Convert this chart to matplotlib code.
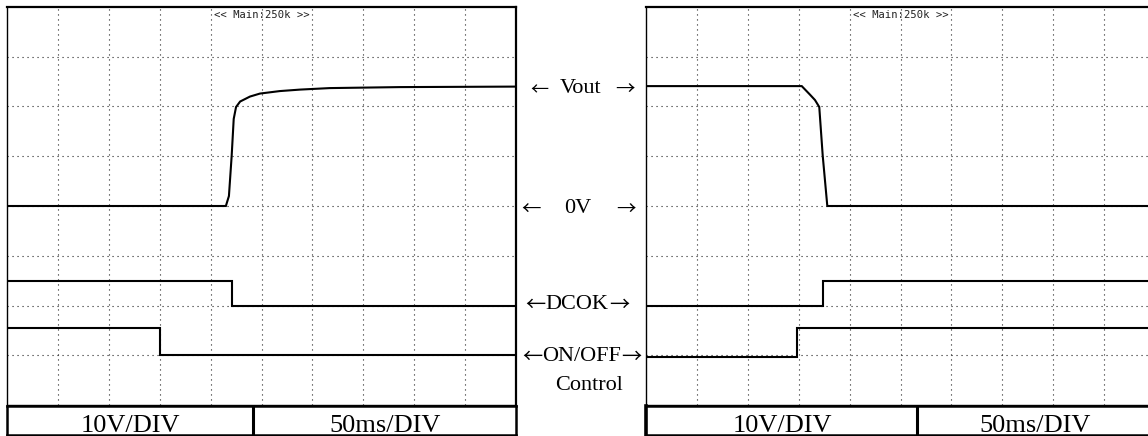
import matplotlib
matplotlib.use("Agg")
import matplotlib.pyplot as plt

# --- captured waveforms (time in ms, 50 ms/div; amplitude in V, 10 V/div) ---
screen_ms = 500
screen_v = 80
grid_t = [50, 100, 150, 200, 250, 300, 350, 400, 450]
grid_v = [10, 20, 30, 40, 50, 60, 70]

# channel ground offsets on screen (V)
vout_zero = 40
dcok_zero = 20
onoff_zero = 10

# power-on capture
on_vout_t = [0, 215, 218, 220.7, 222.7, 225, 229, 238.7, 248.5, 268, 288, 317, 386, 500]
on_vout_v = [0, 0, 2.0, 10.1, 17.5, 19.9, 21.0, 22.0, 22.6, 23.1, 23.4, 23.7, 23.9, 24.0]
on_dcok_t = [0, 221, 500]
on_dcok_v = [4.9, 0, 0]
on_onoff_t = [0, 150, 500]
on_onoff_v = [5.4, 0, 0]

# power-off capture
off_vout_t = [0, 153, 161, 166, 170.2, 173.6, 178.1, 500]
off_vout_v = [24.1, 24.1, 22.4, 21.3, 19.9, 10.1, 0, 0]
off_dcok_t = [0, 174, 500]
off_dcok_v = [0, 5.0, 5.0]
off_onoff_t = [0, 148.3, 500]
off_onoff_v = [-0.3, 5.5, 5.5]

scale_labels = ["10V/DIV", "50ms/DIV"]
header = "<< Main:250k >>"

W, H = 1148, 436
fig = plt.figure(figsize=(W / 100, H / 100), dpi=100)
fig.patch.set_facecolor("white")


def rect(x0, y0, x1, y1):
    """pixel box (top-left origin) -> figure fraction rect"""
    return [x0 / W, 1 - y1 / H, (x1 - x0) / W, (y1 - y0) / H]


def scope(x0, traces, right_lw=1.6):
    ax = fig.add_axes(rect(x0, 7, x0 + 509, 405))
    ax.set_xlim(0, screen_ms)
    ax.set_ylim(0, screen_v)
    for t in grid_t:
        ax.axvline(t, color="#222222", lw=0.8, ls=(0, (1, 3.5)), zorder=1)
    for v in grid_v:
        ax.axhline(v, color="#222222", lw=0.8, ls=(0, (1, 3.5)), zorder=1)
    ax.set_xticks([])
    ax.set_yticks([])
    ax.spines["top"].set_linewidth(1.6)
    ax.spines["left"].set_linewidth(1.0)
    ax.spines["right"].set_linewidth(right_lw)
    ax.spines["bottom"].set_linewidth(1.0)
    for t, v, z, ds in traces:
        ax.plot(t, [z + a for a in v], color="black", lw=1.5,
                drawstyle=ds, zorder=3, solid_joinstyle="miter")
    ax.text(250, 0.993, header, transform=ax.get_xaxis_transform(),
            ha="center", va="top", fontsize=7.6, color="#222222",
            family="DejaVu Sans Mono")
    return ax


def table(x0, split, centers, left_lw):
    ax = fig.add_axes(rect(x0, 406, x0 + 509, 435))
    ax.set_xlim(0, 1)
    ax.set_ylim(0, 1)
    ax.set_xticks([])
    ax.set_yticks([])
    for s in ax.spines.values():
        s.set_linewidth(1.8)
    ax.spines["left"].set_linewidth(left_lw)
    ax.axvline(split, color="black", lw=2.2)
    for c, lab in zip(centers, scale_labels):
        ax.text(c, 0.11, lab, ha="center", va="baseline", fontsize=19,
                family="Liberation Serif")
    return ax


scope(7, [
    (on_vout_t, on_vout_v, vout_zero, "default"),
    (on_dcok_t, on_dcok_v, dcok_zero, "steps-post"),
    (on_onoff_t, on_onoff_v, onoff_zero, "steps-post"),
])
scope(646, [
    (off_vout_t, off_vout_v, vout_zero, "default"),
    (off_dcok_t, off_dcok_v, dcok_zero, "steps-post"),
    (off_onoff_t, off_onoff_v, onoff_zero, "steps-post"),
])

table(7, (253 - 7) / 509, [(130 - 7) / 509, (385 - 7) / 509], 1.8)
table(646, (917 - 646) / 509, [(782 - 646) / 509, (1035 - 646) / 509], 2.6)

# channel markers between the two screens
serif = ["Liberation Serif", "DejaVu Serif"]
arrow_font = ["Noto Sans CJK SC", "DejaVu Sans"]


def label(x, y, s):
    fig.text(x / W, 1 - y / H, s, ha="center", va="baseline",
             fontsize=16, family=serif)


def arrow(x, y, s, size=14.5):
    # arrows sit slightly lower than the text baseline to line up with x-height
    fig.text(x / W, 1 - (y + 2) / H, s, ha="center", va="baseline",
             fontsize=size, family=arrow_font)


label(581, 93, "Vout")
arrow(539, 93, "←", 13)
arrow(625, 93, "→", 14)

label(578, 213, "0V")
arrow(531, 213, "←", 14)
arrow(626, 213, "→", 14)

label(577, 309, "DCOK")
arrow(535, 309, "←")
arrow(619, 309, "→")

label(581.5, 361, "ON/OFF")
arrow(532, 361, "←")
arrow(631, 361, "→")

label(589, 390, "Control")

fig.savefig("out.png", dpi=100, facecolor="white")
